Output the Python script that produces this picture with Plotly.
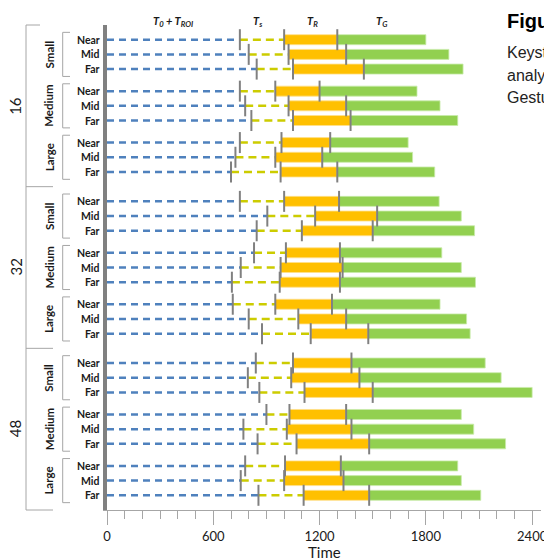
import plotly.graph_objects as go

groups = ["16", "32", "48"]
sizes = ["Small", "Medium", "Large"]
distances = ["Near", "Mid", "Far"]

# end of T0 + TROI (blue dashed)
t_roi = [750, 800, 845, 750, 780, 815, 750, 725, 700,
         750, 905, 845, 830, 755, 705, 710, 800, 875,
         840, 795, 860, 900, 770, 850, 780, 755, 855]
# end of Ts (yellow dashed)
t_s = [1000, 1025, 1050, 950, 1025, 1050, 985, 950, 980,
       1000, 1175, 1100, 1010, 980, 975, 950, 1080, 1150,
       1050, 1040, 1115, 1030, 1015, 1070, 1005, 1000, 1110]
# end of TR (orange)
t_r = [1300, 1350, 1450, 1200, 1350, 1375, 1260, 1215, 1300,
       1310, 1525, 1500, 1315, 1330, 1315, 1270, 1350, 1475,
       1380, 1425, 1500, 1350, 1380, 1480, 1320, 1335, 1480]
# end of TG (green)
t_g = [1800, 1930, 2010, 1750, 1880, 1980, 1700, 1725, 1850,
       1875, 2000, 2075, 1890, 2000, 2080, 1880, 2030, 2050,
       2135, 2225, 2400, 2000, 2070, 2250, 1980, 2000, 2110]

x_ticks = [0, 600, 1200, 1800, 2400]

W, H = 544, 559
PL, PR, PT, PB = 107, 541, 25, 510
Y_MIN, Y_MAX = -1, 32


def pxx(p):
    return p / W


def pxy(p):
    return 1 - p / H


def vy(v):
    """category-unit y -> paper y"""
    p = PT + (v - Y_MIN) / (Y_MAX - Y_MIN) * (PB - PT)
    return pxy(p)


pos = []
for gi in range(len(groups)):
    for si in range(len(sizes)):
        for di in range(len(distances)):
            pos.append(gi * 11 + si * 3.5 + di)

fig = go.Figure()

bx, by, yx, yy = [], [], [], []
for p, a, b in zip(pos, t_roi, t_s):
    bx += [0, a, None]
    by += [p, p, None]
    yx += [a, b, None]
    yy += [p, p, None]

fig.add_trace(go.Scatter(x=bx, y=by, mode="lines", name="T0 + TROI",
                         line=dict(color="#4F81BD", width=2.5, dash="7px,5px"),
                         hoverinfo="skip", showlegend=False))
fig.add_trace(go.Scatter(x=yx, y=yy, mode="lines", name="Ts",
                         line=dict(color="#CCCC00", width=2.5, dash="8px,5px"),
                         hoverinfo="skip", showlegend=False))
fig.add_trace(go.Bar(y=pos, x=[r - s for r, s in zip(t_r, t_s)], base=t_s,
                     orientation="h", width=0.68, name="TR",
                     marker=dict(color="#FFC000", line=dict(color="rgba(255,224,140,0.8)", width=1)),
                     showlegend=False))
fig.add_trace(go.Bar(y=pos, x=[g - r for g, r in zip(t_g, t_r)], base=t_r,
                     orientation="h", width=0.68, name="TG",
                     marker=dict(color="#92D050", line=dict(color="rgba(200,235,170,0.8)", width=1)),
                     showlegend=False))

mx, my = [], []
for p, a, b, r in zip(pos, t_roi, t_s, t_r):
    mx += [a, b, r]
    my += [p, p, p]
fig.add_trace(go.Scatter(x=mx, y=my, mode="markers", hoverinfo="skip", showlegend=False,
                         marker=dict(symbol="line-ns", size=15,
                                     line=dict(color="#808080", width=2))))

annotations = []
shapes = []
LC = "#A6A6A6"

# row labels
for i, p in enumerate(pos):
    annotations.append(dict(x=pxx(102), y=vy(p), xref="paper", yref="paper",
                            text="<b>%s</b>" % distances[i % 3], showarrow=False,
                            xanchor="right", yanchor="middle",
                            font=dict(family="Lato", size=10.5, color="#1a1a1a")))

# size labels and brackets
for gi in range(len(groups)):
    for si in range(len(sizes)):
        start = gi * 11 + si * 3.5
        annotations.append(dict(x=pxx(49), y=vy(start + 1), xref="paper", yref="paper",
                                text="<b>%s</b>" % sizes[si], showarrow=False, textangle=-90,
                                xanchor="center", yanchor="middle",
                                font=dict(family="Lato", size=11.5, color="#1a1a1a")))
        t, b = vy(start - 0.5), vy(start + 2.5)
        shapes.append(dict(type="line", xref="paper", yref="paper", x0=pxx(62.7), x1=pxx(62.7),
                           y0=t, y1=b, line=dict(color=LC, width=1)))
        for yv in (t, b):
            shapes.append(dict(type="line", xref="paper", yref="paper", x0=pxx(62.7), x1=pxx(70),
                               y0=yv, y1=yv, line=dict(color=LC, width=1)))
    # group labels
    annotations.append(dict(x=pxx(15), y=vy(gi * 11 + 4.5), xref="paper", yref="paper",
                            text=groups[gi], showarrow=False, textangle=-90,
                            xanchor="center", yanchor="middle",
                            font=dict(family="Lato", size=15, color="#1a1a1a")))

# outer bracket
shapes.append(dict(type="line", xref="paper", yref="paper", x0=pxx(26), x1=pxx(26),
                   y0=vy(-1), y1=vy(32), line=dict(color=LC, width=1)))
for v, xe in ((-1, 40), (10, 53), (21, 53), (32, 53)):
    shapes.append(dict(type="line", xref="paper", yref="paper", x0=pxx(26), x1=pxx(xe),
                       y0=vy(v), y1=vy(v), line=dict(color=LC, width=1)))

# top series labels
for txt, xp in (("T<sub>0</sub> + T<sub>ROI</sub>", 173), ("T<sub>s</sub>", 258),
                ("T<sub>R</sub>", 312), ("T<sub>G</sub>", 382)):
    annotations.append(dict(x=pxx(xp), y=pxy(21), xref="paper", yref="paper",
                            text="<b><i>%s</i></b>" % txt, showarrow=False,
                            xanchor="center", yanchor="middle",
                            font=dict(family="Lato", size=11, color="#1a1a1a")))

# axis title
annotations.append(dict(x=pxx(324), y=pxy(552), xref="paper", yref="paper", text="Time",
                        showarrow=False, xanchor="center", yanchor="middle",
                        font=dict(family="Lato", size=15, color="#1a1a1a")))

# neighbouring document text (clipped by page edge)
annotations.append(dict(x=pxx(505), y=pxy(21), xref="paper", yref="paper",
                        text="<b>Figure</b>", showarrow=False, xanchor="left", yanchor="middle",
                        font=dict(family="Liberation Sans", size=20, color="#000000")))
for txt, yp in (("Keystroke", 53), ("analysis", 75), ("Gesture", 97)):
    annotations.append(dict(x=pxx(505), y=pxy(yp), xref="paper", yref="paper",
                            text=txt, showarrow=False, xanchor="left", yanchor="middle",
                            font=dict(family="Liberation Sans", size=16, color="#222222")))

fig.update_layout(
    width=W, height=H,
    margin=dict(l=0, r=0, t=0, b=0),
    paper_bgcolor="white", plot_bgcolor="white",
    barmode="overlay",
    showlegend=False,
    xaxis=dict(domain=[pxx(PL), pxx(PR)], range=[0, 2450], automargin=False,
               showline=True, linecolor=LC, linewidth=1,
               tickmode="array", tickvals=x_ticks, ticktext=[str(v) for v in x_ticks],
               ticks="outside", ticklen=14, tickcolor=LC, tickwidth=1,
               ticklabelstandoff=0, ticklabeloverflow="allow",
               minor=dict(dtick=100, ticks="outside", ticklen=8, tickcolor=LC, tickwidth=1,
                          showgrid=False),
               showgrid=False, zeroline=False,
               tickfont=dict(family="Lato", size=13, color="#1a1a1a")),
    yaxis=dict(domain=[pxy(PB), pxy(PT)], range=[Y_MAX, Y_MIN], automargin=False,
               showline=True, linecolor="#808080", linewidth=3.5,
               showticklabels=False, ticks="", showgrid=False, zeroline=False),
    annotations=annotations,
    shapes=shapes,
)

fig.write_html("out.html", config={"displayModeBar": False},
               post_script="document.body.style.margin='0';document.body.style.overflow='hidden';")
